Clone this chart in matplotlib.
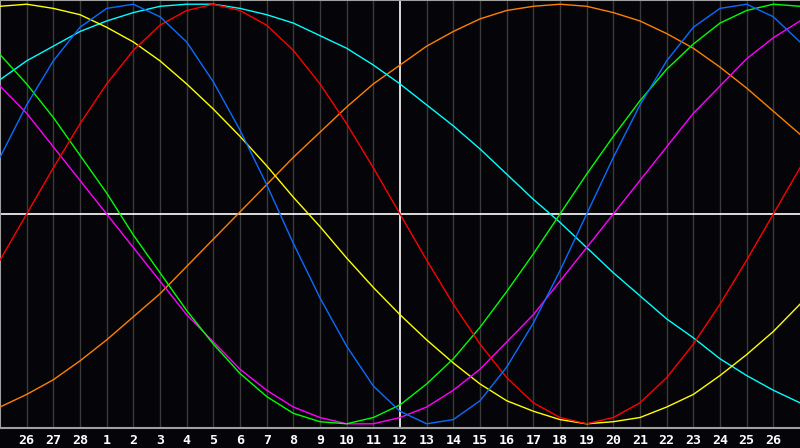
import matplotlib
matplotlib.use("Agg")
import matplotlib.pyplot as plt

# day positions 0..30 (one column per day, 26.67 px apart)
days = list(range(31))
day_labels = ["26", "27", "28"] + [str(i) for i in range(1, 27)]
label_pos = list(range(1, 30))
today = 15

red = [-0.22, 0.00, 0.22, 0.43, 0.62, 0.78, 0.90, 0.97, 1.00, 0.97, 0.90,
       0.78, 0.62, 0.43, 0.22, 0.00, -0.22, -0.43, -0.62, -0.78, -0.90,
       -0.97, -1.00, -0.97, -0.90, -0.78, -0.62, -0.43, -0.22, 0.00, 0.22]
blue = [0.27, 0.52, 0.73, 0.89, 0.98, 1.00, 0.94, 0.82, 0.63, 0.40, 0.14,
        -0.14, -0.40, -0.63, -0.82, -0.94, -1.00, -0.98, -0.89, -0.73, -0.52,
        -0.27, 0.00, 0.27, 0.52, 0.73, 0.89, 0.98, 1.00, 0.94, 0.82]
green = [0.76, 0.62, 0.46, 0.28, 0.10, -0.10, -0.28, -0.46, -0.62, -0.76, -0.87,
         -0.95, -0.99, -1.00, -0.97, -0.91, -0.81, -0.69, -0.54, -0.37, -0.19,
         0.00, 0.19, 0.37, 0.54, 0.69, 0.81, 0.91, 0.97, 1.00, 0.99]
yellow = [0.99, 1.00, 0.98, 0.95, 0.89, 0.82, 0.73, 0.62, 0.50, 0.37, 0.23,
          0.08, -0.06, -0.21, -0.35, -0.48, -0.60, -0.71, -0.81, -0.89, -0.94,
          -0.98, -1.00, -0.99, -0.97, -0.92, -0.86, -0.77, -0.67, -0.56, -0.43]
magenta = [0.61, 0.48, 0.32, 0.16, 0.00, -0.16, -0.32, -0.48, -0.61, -0.74, -0.84,
           -0.92, -0.97, -1.00, -1.00, -0.97, -0.92, -0.84, -0.74, -0.61, -0.48,
           -0.32, -0.16, 0.00, 0.16, 0.32, 0.48, 0.61, 0.74, 0.84, 0.92]
orange = [-0.92, -0.86, -0.79, -0.70, -0.60, -0.49, -0.38, -0.25, -0.12, 0.01, 0.14,
          0.27, 0.39, 0.51, 0.62, 0.71, 0.80, 0.87, 0.93, 0.97, 0.99,
          1.00, 0.99, 0.96, 0.92, 0.86, 0.79, 0.70, 0.60, 0.49, 0.38]
cyan = [0.64, 0.73, 0.80, 0.87, 0.92, 0.96, 0.99, 1.00, 1.00, 0.98, 0.95,
        0.91, 0.85, 0.79, 0.71, 0.62, 0.52, 0.42, 0.31, 0.19, 0.07,
        -0.04, -0.16, -0.28, -0.39, -0.50, -0.59, -0.69, -0.77, -0.84, -0.90]

series = [
    (orange, "#ff8000"),
    (cyan, "#00ffff"),
    (yellow, "#ffff00"),
    (magenta, "#ff00ff"),
    (green, "#00ff00"),
    (red, "#ff0000"),
    (blue, "#0a6cff"),
]

bg = "#050509"
fig = plt.figure(figsize=(8, 4.48), dpi=100, facecolor=bg)
ax = fig.add_axes([0, 20 / 448, 1, 428 / 448])
ax.set_facecolor(bg)

for d in label_pos:
    if d != today:
        ax.axvline(d, color="#3a3a3a", lw=1.0, zorder=1)
ax.axvline(today, color="white", lw=1.2, zorder=2)
ax.axhline(0, color="white", lw=1.2, zorder=2)

for vals, col in series:
    ax.plot(days, vals, color=col, lw=1.0, zorder=3, solid_joinstyle="round")

ax.set_xlim(0, 30)
ax.set_ylim(-1.02, 1.02)
ax.set_yticks([])
ax.set_xticks(label_pos)
ax.set_xticklabels(day_labels, color="white", fontsize=9.5, fontweight="bold",
                   family="DejaVu Sans Mono")
ax.tick_params(axis="x", length=0, pad=4)
for side in ["left", "top", "bottom"]:
    ax.spines[side].set_color("#a0a0a0")
    ax.spines[side].set_linewidth(1.5)
ax.spines["right"].set_visible(False)

fig.savefig("out.png", dpi=100, facecolor=bg)
